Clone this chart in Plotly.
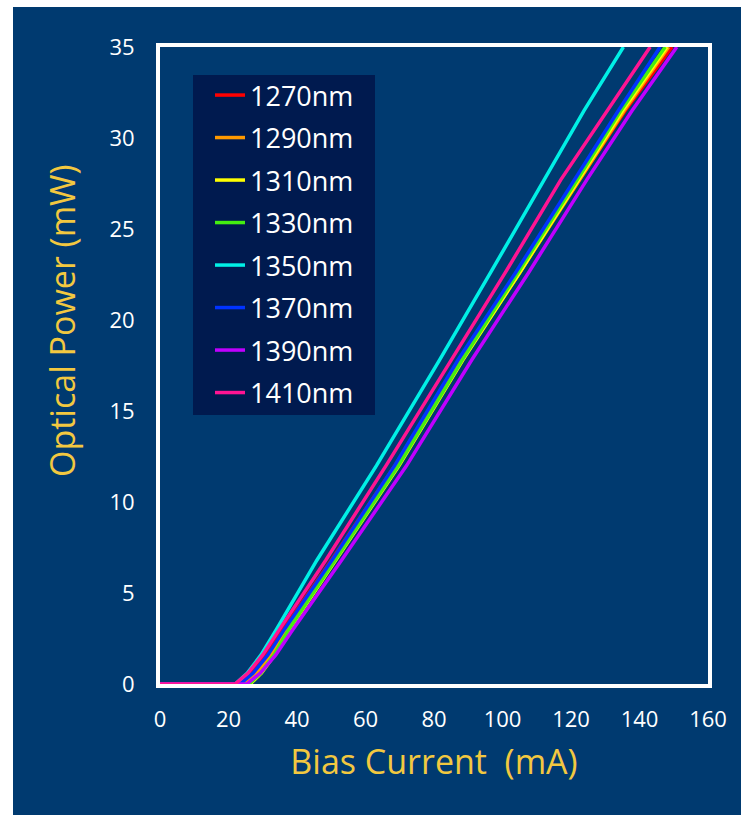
import plotly.graph_objects as go

# L-I curves of an 8-channel CWDM laser array
wavelengths = ["1270nm", "1290nm", "1310nm", "1330nm", "1350nm", "1370nm", "1390nm", "1410nm"]
colors = ["#ff0000", "#ff9900", "#ffff00", "#44ee11", "#00f0e6", "#0033ff", "#c000ff", "#ff1493"]

# optical power levels (mW) shared by all channels
power_mw = [0, 0, 0.6, 1.6, 3.0, 6.8, 12.0, 17.8, 22.6, 27.7, 31.5, 35.0]

# bias current (mA) at which each channel reaches the power levels above
current_1270 = [0, 23.0, 26.9, 31.2, 36.0, 50.0, 68.6, 87.5, 104.5, 122.3, 135.8, 149.5]
current_1290 = [0, 24.5, 28.3, 32.5, 37.2, 51.0, 69.5, 88.2, 105.0, 122.5, 135.5, 148.5]
current_1310 = [0, 26.3, 29.6, 33.5, 37.8, 51.4, 69.8, 88.4, 105.0, 122.2, 135.0, 148.0]
current_1330 = [0, 26.0, 29.4, 33.3, 37.6, 51.2, 69.6, 88.2, 104.6, 121.8, 134.5, 147.5]
current_1350 = [0, 22.0, 25.5, 29.5, 34.0, 45.8, 63.2, 81.6, 96.5, 112.0, 123.8, 135.3]
current_1370 = [0, 23.4, 27.2, 31.5, 36.3, 50.2, 68.5, 87.0, 103.8, 121.0, 133.8, 146.0]
current_1390 = [0, 25.3, 29.3, 33.8, 38.8, 53.0, 72.0, 91.0, 107.6, 124.6, 137.8, 150.9]
current_1410 = [0, 21.9, 25.7, 30.0, 34.9, 48.4, 66.0, 85.1, 100.8, 117.0, 130.6, 143.1]

currents = [current_1270, current_1290, current_1310, current_1330,
            current_1350, current_1370, current_1390, current_1410]

x_ticks = [0, 20, 40, 60, 80, 100, 120, 140, 160]
y_ticks = [0, 5, 10, 15, 20, 25, 30, 35]

BG = "#003a70"
LEGEND_BG = "#001a4f"
TITLE_COLOR = "#f2c840"
FONT = "Open Sans"

W, H = 741, 815
L, R, T, B = 160, 33, 47, 131
pw, ph = W - L - R, H - T - B


def px_x(px):
    return (px - L) / pw


def px_y(py):
    return (H - B - py) / ph


fig = go.Figure()
for name, col, cur in zip(wavelengths, colors, currents):
    fig.add_trace(go.Scatter(
        x=cur, y=power_mw, mode="lines", name=name,
        line=dict(color=col, width=3.5),
        legendgroup=name,
    ))

# dark blue panel behind the whole chart
fig.add_shape(type="rect", xref="paper", yref="paper",
              x0=px_x(13), x1=px_x(W + 5), y0=px_y(H + 5), y1=px_y(7),
              fillcolor=BG, line_width=0, layer="below")

# legend box
fig.add_shape(type="rect", xref="paper", yref="paper",
              x0=px_x(193), x1=px_x(375), y0=px_y(415), y1=px_y(75),
              fillcolor=LEGEND_BG, line_width=0, layer="above")

fig.update_layout(
    width=W, height=H,
    margin=dict(l=L, r=R, t=T, b=B),
    paper_bgcolor="white",
    plot_bgcolor=BG,
    font=dict(family=FONT, color="white"),
    showlegend=True,
    legend=dict(
        x=px_x(210), y=px_y(71), xanchor="left", yanchor="top",
        bgcolor="rgba(0,0,0,0)", borderwidth=0,
        font=dict(family=FONT, size=27, color="white"),
        traceorder="grouped", tracegroupgap=4.4,
        itemwidth=30,
    ),
    xaxis=dict(
        range=[0, 160], tickvals=x_ticks, showgrid=False, zeroline=False,
        showline=True, mirror=True, linecolor="white", linewidth=4,
        ticks="", ticklabelstandoff=13,
        tickfont=dict(family=FONT, size=22, color="white"),
        title=dict(text="Bias Current  (mA)", standoff=19,
                   font=dict(family=FONT, size=34, color=TITLE_COLOR)),
    ),
    yaxis=dict(
        range=[0, 35], tickvals=y_ticks, showgrid=False, zeroline=False,
        showline=True, mirror=True, linecolor="white", linewidth=4,
        ticks="", ticklabelstandoff=17,
        tickfont=dict(family=FONT, size=22, color="white"),
    ),
    annotations=[dict(
        text="Optical Power (mW)", textangle=-90,
        xref="paper", yref="paper", x=px_x(62), y=px_y(321),
        xanchor="center", yanchor="middle", showarrow=False,
        font=dict(family=FONT, size=34, color=TITLE_COLOR),
    )],
)

fig.write_html("out.html")
